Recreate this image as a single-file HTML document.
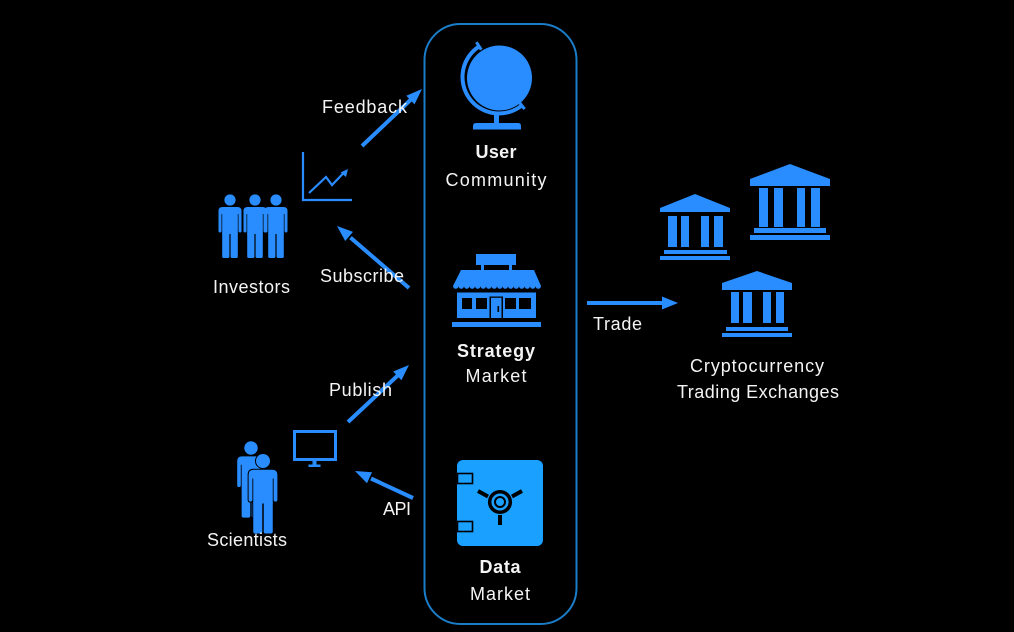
<!DOCTYPE html>
<html>
<head>
<meta charset="utf-8">
<style>
html,body{margin:0;padding:0;background:#000;}
svg{display:block;}
text{font-family:"Liberation Sans",sans-serif;font-size:18px;fill:#f4f4f4;}
.b{font-weight:bold;}
</style>
</head>
<body>
<svg width="1014" height="632" viewBox="0 0 1014 632" xmlns="http://www.w3.org/2000/svg">
<rect x="0" y="0" width="1014" height="632" fill="#000"/>

<!-- central container -->
<rect x="424.5" y="24" width="152" height="600" rx="36" ry="36" fill="none" stroke="#1b7cc8" stroke-width="2"/>

<!-- globe -->
<g fill="#298dff" stroke="none">
  <circle cx="499.5" cy="78" r="32.5"/>
  <path d="M479.1,46.4 A36.5,36.5 0 1 0 521.8,105.5" fill="none" stroke="#298dff" stroke-width="4"/>
  <line x1="481.3" y1="49.7" x2="476.4" y2="42.2" stroke="#298dff" stroke-width="3"/>
  <line x1="519.1" y1="102.1" x2="524.6" y2="109.1" stroke="#298dff" stroke-width="3"/>
  <rect x="494" y="112" width="5" height="12"/>
  <path d="M473,129.5 L473,126 Q473,123 476,123 L518,123 Q521,123 521,126 L521,129.5 Z"/>
</g>
<text class="b" x="496" y="158" text-anchor="middle" textLength="41" lengthAdjust="spacing">User</text>
<text x="496" y="186" text-anchor="middle" textLength="101" lengthAdjust="spacing">Community</text>

<!-- store -->
<g fill="#298dff">
  <rect x="476" y="254" width="40" height="11"/>
  <rect x="481" y="264" width="3" height="7"/>
  <rect x="509" y="264" width="3" height="7"/>
  <path d="M461,270 L534,270 L541,286 a2.75,2.75 0 0 1 -5.5,0 a2.75,2.75 0 0 1 -5.5,0 a2.75,2.75 0 0 1 -5.5,0 a2.75,2.75 0 0 1 -5.5,0 a2.75,2.75 0 0 1 -5.5,0 a2.75,2.75 0 0 1 -5.5,0 a2.75,2.75 0 0 1 -5.5,0 a2.75,2.75 0 0 1 -5.5,0 a2.75,2.75 0 0 1 -5.5,0 a2.75,2.75 0 0 1 -5.5,0 a2.75,2.75 0 0 1 -5.5,0 a2.75,2.75 0 0 1 -5.5,0 a2.75,2.75 0 0 1 -5.5,0 a2.75,2.75 0 0 1 -5.5,0 a2.75,2.75 0 0 1 -5.5,0 a2.75,2.75 0 0 1 -5.5,0 Z"/>
  <rect x="457" y="292.5" width="79" height="25.5"/>
  <rect x="452" y="322" width="89" height="5"/>
</g>
<g fill="#000">
  <rect x="462" y="298" width="10" height="11"/>
  <rect x="476" y="298" width="11" height="11"/>
  <rect x="505" y="298" width="11" height="11"/>
  <rect x="519" y="298" width="12" height="11"/>
  <rect x="489.5" y="296.5" width="1.5" height="21.5"/>
  <rect x="501.5" y="296.5" width="1.5" height="21.5"/>
  <rect x="489.5" y="296.5" width="13.5" height="1.3"/>
  <rect x="497.5" y="306" width="1.6" height="6"/>
</g>
<text class="b" x="496" y="357" text-anchor="middle" textLength="78" lengthAdjust="spacing">Strategy</text>
<text x="496" y="382" text-anchor="middle" textLength="61" lengthAdjust="spacing">Market</text>

<!-- safe -->
<rect x="457" y="460" width="86" height="86" rx="6" fill="#1aa0ff"/>
<rect x="457.5" y="473.5" width="15" height="10" fill="none" stroke="#000" stroke-width="1.6"/>
<rect x="457.5" y="521.5" width="15" height="10" fill="none" stroke="#000" stroke-width="1.6"/>
<circle cx="500" cy="502" r="10.3" fill="none" stroke="#000" stroke-width="3.5"/>
<circle cx="500" cy="502" r="5" fill="none" stroke="#000" stroke-width="2"/>
<g stroke="#000" stroke-width="4">
  <line x1="488" y1="496.5" x2="478" y2="491"/>
  <line x1="512" y1="496.5" x2="522" y2="491"/>
  <line x1="500" y1="515" x2="500" y2="525"/>
</g>
<text class="b" x="500" y="573" text-anchor="middle" textLength="41" lengthAdjust="spacing">Data</text>
<text x="500" y="600" text-anchor="middle" textLength="60" lengthAdjust="spacing">Market</text>

<!-- arrows -->
<g stroke="#298dff" stroke-width="4" fill="none">
  <line x1="362" y1="146" x2="412" y2="98.5"/>
  <line x1="409" y1="288" x2="350.5" y2="237.6"/>
  <line x1="348" y1="422" x2="398.8" y2="374.5"/>
  <line x1="413" y1="498" x2="371" y2="478.5"/>
  <line x1="587" y1="303" x2="664" y2="303"/>
</g>
<g fill="#298dff">
  <polygon points="422,89 414.5,104.4 406.3,95.7"/>
  <polygon points="337,226 353,231.9 345.2,241"/>
  <polygon points="409,365 401.4,380.3 393.2,371.5"/>
  <polygon points="355,471 372,472.3 367,483.2"/>
  <polygon points="662,296.5 678,303 662,309.5"/>
</g>
<text x="322" y="113" textLength="85" lengthAdjust="spacing">Feedback</text>
<text x="320" y="282" textLength="84" lengthAdjust="spacing">Subscribe</text>
<text x="329" y="396" textLength="63" lengthAdjust="spacing">Publish</text>
<text x="383" y="515" textLength="28" lengthAdjust="spacing">API</text>
<text x="593" y="330" textLength="49" lengthAdjust="spacing">Trade</text>

<!-- chart icon -->
<g stroke="#298dff" stroke-width="2.2" fill="none">
  <polyline points="303,152 303,200 352,200"/>
  <polyline points="309,193 326,177 332,185 345,171.5"/>
</g>
<polygon points="348,169 346,177 340.5,172.5" fill="#298dff"/>

<!-- person symbol -->
<defs>
  <g id="person">
    <circle cx="0" cy="0" r="5.6"/>
    <path d="M-11.5,11 Q-11.5,7 -7.5,7 L7.5,7 Q11.5,7 11.5,11 L11.5,31 Q11.5,32.5 10,32.5 Q8.5,32.5 8.5,31 L8.5,14 L7.8,14 L7.8,34 L-7.8,34 L-7.8,14 L-8.5,14 L-8.5,31 Q-8.5,32.5 -10,32.5 Q-11.5,32.5 -11.5,31 Z"/>
    <path d="M-7.8,33 L-0.6,33 L-0.6,56.5 Q-0.6,58 -2.1,58 L-6.3,58 Q-7.8,58 -7.8,56.5 Z"/>
    <path d="M0.6,33 L7.8,33 L7.8,56.5 Q7.8,58 6.3,58 L2.1,58 Q0.6,58 0.6,56.5 Z"/>
  </g>
</defs>

<!-- investors -->
<g fill="#298dff">
  <use href="#person" transform="translate(230,200)"/>
  <use href="#person" transform="translate(255,200)"/>
  <use href="#person" transform="translate(276,200)"/>
</g>
<text x="213" y="293" textLength="77" lengthAdjust="spacing">Investors</text>

<!-- monitor -->
<g fill="#298dff">
  <rect x="294.5" y="431.5" width="41" height="28" fill="none" stroke="#298dff" stroke-width="3"/>
  <rect x="312.5" y="461" width="4" height="4"/>
  <rect x="308.5" y="464.5" width="12" height="2.5"/>
</g>

<!-- scientists -->
<g fill="#298dff">
  <use href="#person" transform="translate(251,448) scale(1.2)"/>
  <g transform="translate(263,461) scale(1.25)">
    <use href="#person" fill="#000" stroke="#000" stroke-width="1.6"/>
    <use href="#person"/>
  </g>
</g>
<text x="207" y="546" textLength="80" lengthAdjust="spacing">Scientists</text>

<!-- banks -->
<g fill="#298dff">
  <!-- bank 1 -->
  <polygon points="695,194 730,208 730,212 660,212 660,208"/>
  <rect x="668" y="216" width="9" height="31"/>
  <rect x="681" y="216" width="8" height="31"/>
  <rect x="701" y="216" width="8" height="31"/>
  <rect x="714" y="216" width="9" height="31"/>
  <rect x="664" y="250" width="63" height="4"/>
  <rect x="660" y="256" width="70" height="4"/>
  <!-- bank 2 -->
  <polygon points="790,164 830,179 830,186 750,186 750,179"/>
  <rect x="759" y="188" width="9" height="39"/>
  <rect x="774" y="188" width="9" height="39"/>
  <rect x="797" y="188" width="8" height="39"/>
  <rect x="811" y="188" width="9" height="39"/>
  <rect x="754" y="228" width="72" height="5"/>
  <rect x="750" y="235" width="80" height="5"/>
  <!-- bank 3 -->
  <polygon points="757,271 792,283 792,290 722,290 722,283"/>
  <rect x="731" y="292" width="8" height="31"/>
  <rect x="743" y="292" width="9" height="31"/>
  <rect x="763" y="292" width="8" height="31"/>
  <rect x="776" y="292" width="8" height="31"/>
  <rect x="726" y="327" width="62" height="4"/>
  <rect x="722" y="333" width="70" height="4"/>
</g>
<text x="757" y="372" text-anchor="middle" textLength="134" lengthAdjust="spacing">Cryptocurrency</text>
<text x="758" y="398" text-anchor="middle" textLength="162" lengthAdjust="spacing">Trading Exchanges</text>
</svg>
</body>
</html>
